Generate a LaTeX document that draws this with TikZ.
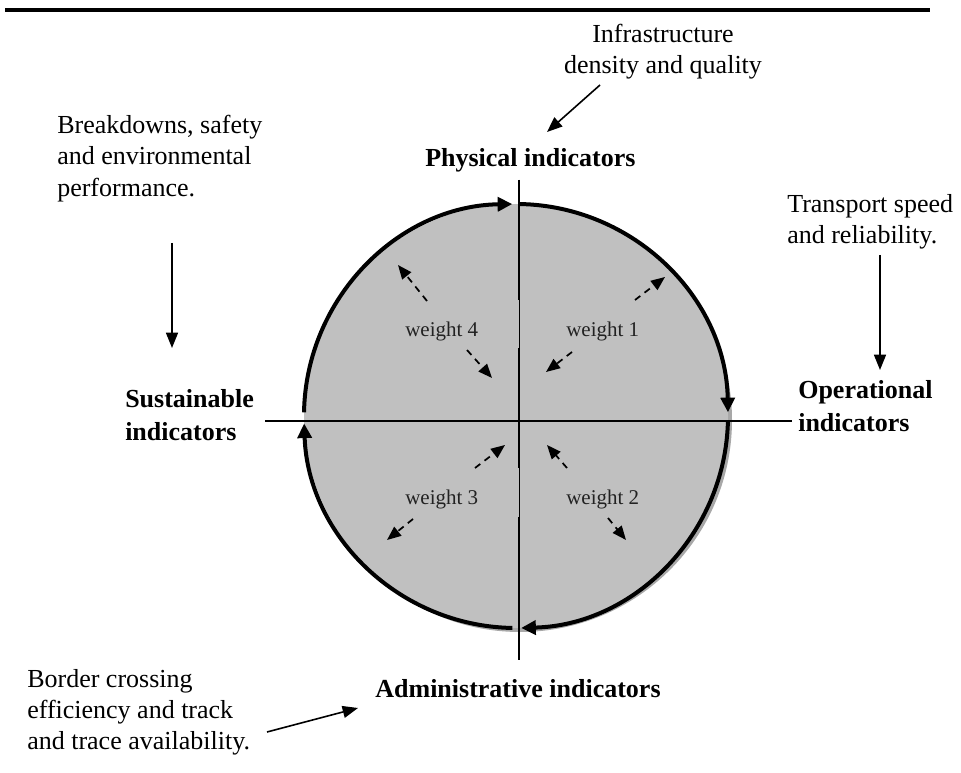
\documentclass[tikz,border=0pt]{standalone}
\usepackage{fontspec}
\setmainfont{Liberation Serif}
\usetikzlibrary{arrows.meta}
\definecolor{circgray}{HTML}{C0C0C0}
\definecolor{shadgray}{HTML}{A8A8A8}
\definecolor{wtext}{HTML}{222222}
\tikzset{
  lbl/.style={font=\fontsize{19.5}{23.5}\selectfont, inner sep=0pt, align=left},
  boldlbl/.style={font=\fontsize{19.5}{24.75}\selectfont\bfseries, inner sep=0pt, align=left},
  wlbl/.style={font=\fontsize{15.75}{18}\selectfont, text=wtext, inner sep=0pt},
  ann/.style={-{Triangle[length=11.5pt,width=9pt]}, line width=1.2pt},
  dasharrow/.style={-{Triangle[length=10.5pt,width=8.5pt]}, line width=1.3pt, dash pattern=on 5pt off 4pt},
  circarc/.style={line width=3pt, -{Triangle[length=11pt,width=10.5pt]}},
  axisline/.style={line width=1.2pt},
  axisthin/.style={line width=0.6pt},
}
\begin{document}
\begin{tikzpicture}[x=0.75pt, y=0.75pt, yscale=-1]
\useasboundingbox (0,0) rectangle (961,773);

% top rule
\draw[line width=3pt] (5,10) -- (930,10);

% circle with shadow
\coordinate (C) at (516,416);
\fill[shadgray] (520,420) circle (212);
\fill[circgray] (C) circle (212);

% axes
\coordinate (vt) at (519,180);
\coordinate (vb) at (519,660);
\coordinate (hl) at (265,421);
\coordinate (hr) at (792,421);
\draw[axisthin] (vt) -- (vb);
\draw[axisline] (519,180) -- (519,300);
\draw[axisline] (519,348) -- (519,468);
\draw[axisline] (519,517) -- (519,660);
\draw[axisline] (hl) -- (hr);

% circular arrows (clockwise)
\draw[circarc] (C) ++(181:212) arc[start angle=181, end angle=269, radius=212];
\draw[circarc] (C) ++(271:212) arc[start angle=271, end angle=359, radius=212];
\draw[circarc] (C) ++(1.5:212) arc[start angle=1.5, end angle=88.6, radius=212];
\draw[circarc] (C) ++(91:212) arc[start angle=91, end angle=178, radius=212];

% indicator labels
\node[boldlbl, anchor=base west] (phys) at (425,167) {Physical indicators};
\node[boldlbl, anchor=north west] (oper) at (798,380) {Operational\\indicators};
\node[boldlbl, anchor=north west] (sust) at (125,389) {Sustainable\\indicators};
\node[boldlbl, anchor=base] (admin) at (518,697) {Administrative indicators};

% description texts
\node[lbl, anchor=north, align=center] (infra) at (663,24) {Infrastructure\\density and quality};
\node[lbl, anchor=north west] (brk) at (57,115) {Breakdowns, safety\\and environmental\\performance.};
\node[lbl, anchor=north west] (trans) at (787,194) {Transport speed\\and reliability.};
\node[lbl, anchor=north west] (bord) at (27,669) {Border crossing\\efficiency and track\\and trace availability.};

% annotation arrows
\coordinate (ia) at (600,85);  \coordinate (ib) at (547,132);
\coordinate (ta) at (880,255); \coordinate (tb) at (880,370);
\coordinate (ba) at (172,243); \coordinate (bb) at (172,348);
\coordinate (da) at (267,732); \coordinate (db) at (358,708);
\draw[ann] (ia) -- (ib);
\draw[ann] (ta) -- (tb);
\draw[ann] (ba) -- (bb);
\draw[ann] (da) -- (db);

% weights
\node[wlbl, anchor=base west] (w4) at (405,337) {weight 4};
\node[wlbl, anchor=base west] (w1) at (566,337) {weight 1};
\node[wlbl, anchor=base west] (w3) at (405,505) {weight 3};
\node[wlbl, anchor=base west] (w2) at (566,505) {weight 2};

% dashed double arrows
\coordinate (w4a) at (427,301); \coordinate (w4at) at (398,265);
\coordinate (w4b) at (467,350); \coordinate (w4bt) at (492,378);
\coordinate (w1a) at (635,300); \coordinate (w1at) at (665,277);
\coordinate (w1b) at (572,352); \coordinate (w1bt) at (546,372);
\coordinate (w3a) at (475,468); \coordinate (w3at) at (505,445);
\coordinate (w3b) at (413,519); \coordinate (w3bt) at (387,540);
\coordinate (w2a) at (567,468); \coordinate (w2at) at (547,445);
\coordinate (w2b) at (608,518); \coordinate (w2bt) at (626,540);
\draw[dasharrow] (w4a) -- (w4at);
\draw[dasharrow] (w4b) -- (w4bt);
\draw[dasharrow] (w1a) -- (w1at);
\draw[dasharrow] (w1b) -- (w1bt);
\draw[dasharrow] (w3a) -- (w3at);
\draw[dasharrow] (w3b) -- (w3bt);
\draw[dasharrow] (w2a) -- (w2at);
\draw[dasharrow] (w2b) -- (w2bt);
\end{tikzpicture}
\end{document}
